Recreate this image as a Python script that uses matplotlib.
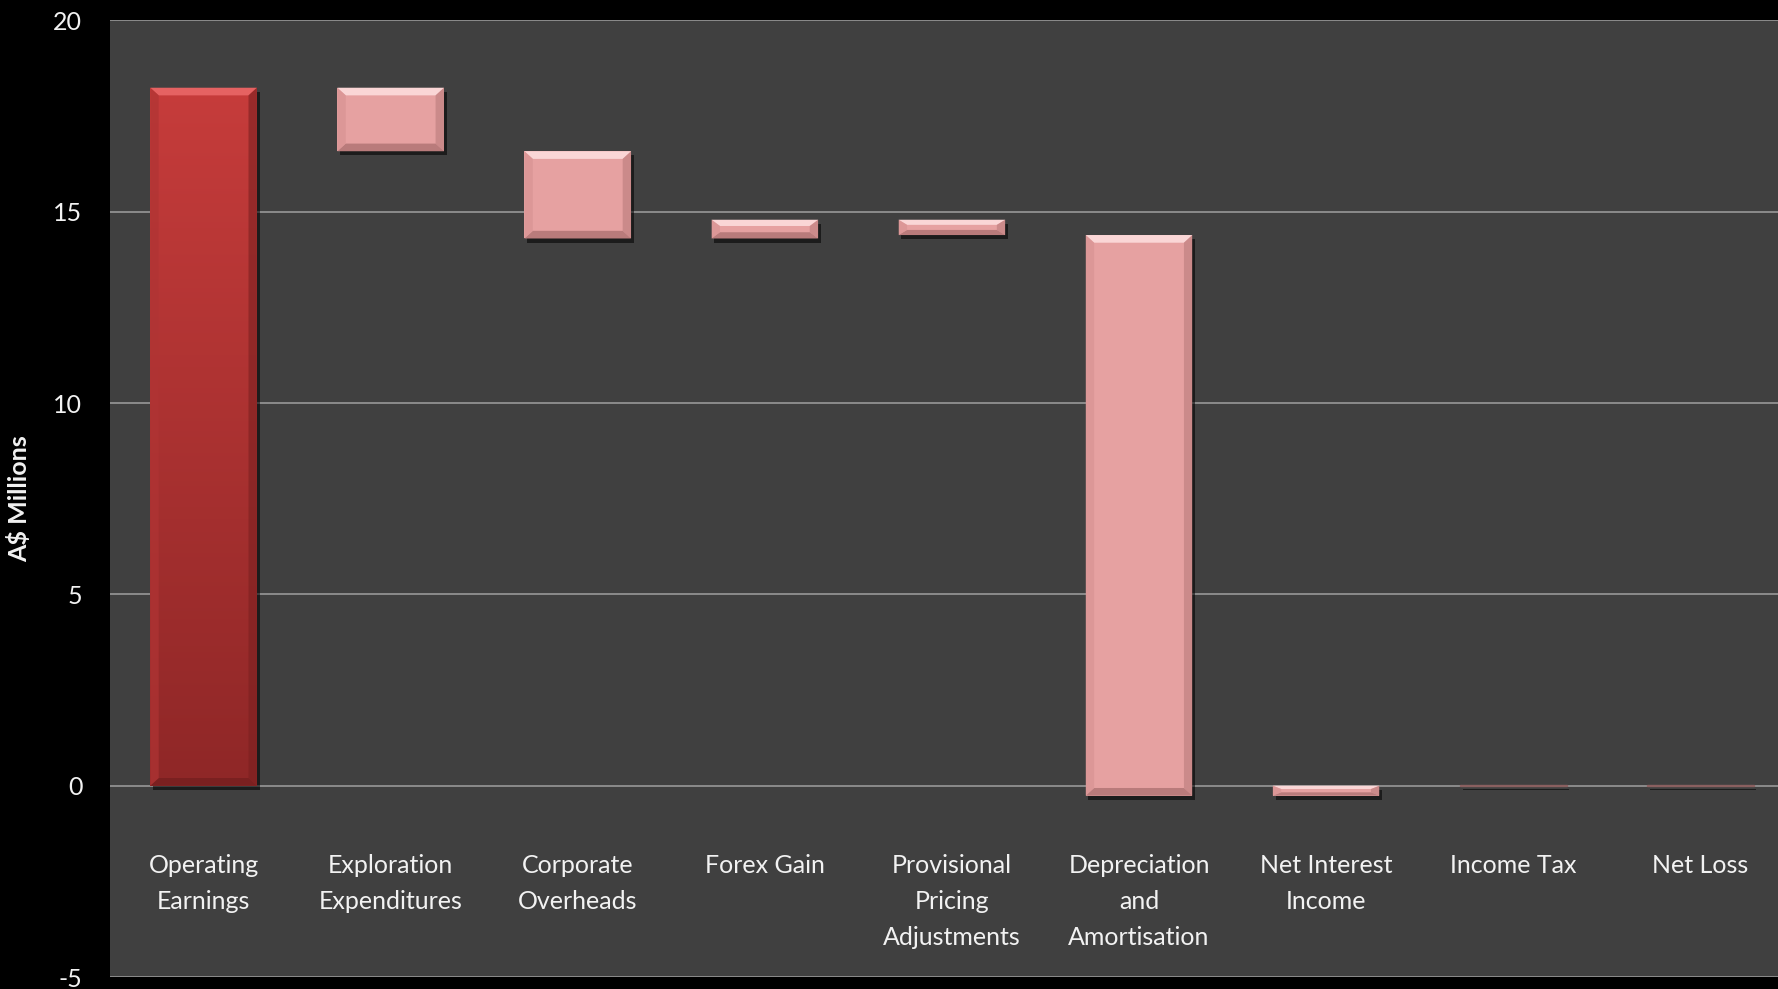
import matplotlib
matplotlib.use("Agg")
import matplotlib.pyplot as plt
import matplotlib.patheffects as pe
from matplotlib.patches import Polygon
from matplotlib.colors import LinearSegmentedColormap
import numpy as np

categories = ["Operating\nEarnings", "Exploration\nExpenditures", "Corporate\nOverheads",
              "Forex Gain", "Provisional\nPricing\nAdjustments", "Depreciation\nand\nAmortisation",
              "Net Interest\nIncome", "Income Tax", "Net Loss"]
bar_start = [0.0, 18.24, 16.58, 14.30, 14.79, 14.39, -0.26, 0.0, 0.0]
bar_end = [18.24, 16.58, 14.30, 14.79, 14.39, -0.26, 0.0, 0.03, 0.03]
y_ticks = [-5, 0, 5, 10, 15, 20]

plt.rcParams['font.family'] = ['Lato', 'DejaVu Sans']
plt.rcParams['axes.unicode_minus'] = False

fig = plt.figure(figsize=(17.78, 9.89), dpi=100, facecolor='black')
ax = fig.add_axes([0.0619, 0.0121, 0.947, 0.9673])
ax.set_facecolor('#404040')

x = np.arange(len(categories))
width = 0.57
bottoms = np.minimum(bar_start, bar_end)
heights = np.abs(np.array(bar_end) - np.array(bar_start))

ax.set_xlim(-0.5, len(categories) - 0.5)
ax.set_ylim(-5, 20)

face_colors = ['#c23a3a'] + ['#e6a1a1'] * (len(categories) - 1)
bars = ax.bar(x, heights, width=width, bottom=bottoms, color=face_colors, zorder=3,
              linewidth=0)
for b in bars:
    b.set_path_effects([pe.SimplePatchShadow(offset=(2, -3), shadow_rgbFace='black', alpha=0.55),
                        pe.Normal()])

# gradient on the first bar
grad = np.linspace(0, 1, 256).reshape(-1, 1)
cmap_red = LinearSegmentedColormap.from_list('r', ['#8f2727', '#c63c3b'])
b0 = bars[0]
im = ax.imshow(grad, extent=[b0.get_x(), b0.get_x() + b0.get_width(), b0.get_y(), b0.get_y() + b0.get_height()],
               origin='lower', cmap=cmap_red, aspect='auto', zorder=3.5)
im.set_clip_path(b0)

# bevels
bevel_y = 0.2
bevel_x = 0.045
for i, b in enumerate(bars):
    x0, y0 = b.get_x(), b.get_y()
    w, h = b.get_width(), b.get_height()
    if h <= 0.06:
        ax.add_patch(Polygon([[x0, y0], [x0 + w, y0], [x0 + w, y0 + h], [x0, y0 + h]],
                             closed=True, facecolor='#a07070', edgecolor='#8a6060', lw=1, zorder=4))
        continue
    by = min(bevel_y, h / 3.0)
    bx = bevel_x
    if i == 0:
        hi, lo, side = '#e56262', '#7a2020', '#b03434'
    else:
        hi, lo, side = '#fad6d6', '#b97b7b', '#d89494'
    top = y0 + h
    ax.add_patch(Polygon([[x0, top], [x0 + w, top], [x0 + w - bx, top - by], [x0 + bx, top - by]],
                         closed=True, facecolor=hi, edgecolor='none', zorder=4))
    ax.add_patch(Polygon([[x0, y0], [x0 + w, y0], [x0 + w - bx, y0 + by], [x0 + bx, y0 + by]],
                         closed=True, facecolor=lo, edgecolor='none', zorder=4))
    ax.add_patch(Polygon([[x0, y0], [x0 + bx, y0 + by], [x0 + bx, top - by], [x0, top]],
                         closed=True, facecolor=side, edgecolor='none', zorder=4, alpha=0.7))
    ax.add_patch(Polygon([[x0 + w, y0], [x0 + w - bx, y0 + by], [x0 + w - bx, top - by], [x0 + w, top]],
                         closed=True, facecolor=lo, edgecolor='none', zorder=4, alpha=0.6))

ax.set_yticks(y_ticks)
ax.yaxis.grid(True, color='#8c8c8c', linewidth=1.4, zorder=1)
ax.set_axisbelow(True)
for s in ax.spines.values():
    s.set_visible(False)
ax.spines['bottom'].set_position(('data', 0))

ax.set_xticks(x)
ax.set_xticklabels(categories, color='#f2f2f2', fontsize=18, linespacing=1.7)
ax.tick_params(axis='x', length=0, pad=49)
ax.tick_params(axis='y', length=0, pad=20, labelcolor='#f2f2f2', labelsize=18)

ax.set_ylabel('A$ Millions', color='#f2f2f2', fontsize=18, fontweight='bold')
ax.yaxis.set_label_coords(-0.047, 0.5)

fig.savefig('out.png', dpi=100, facecolor='black')
